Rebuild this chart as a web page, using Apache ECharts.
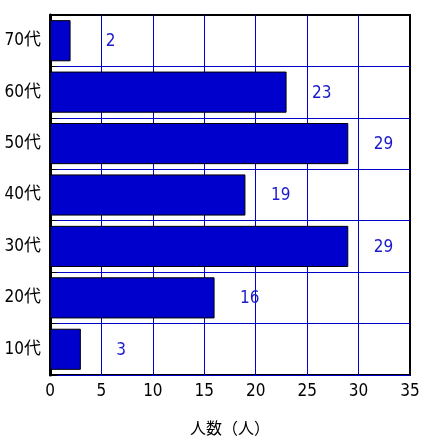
<!DOCTYPE html>
<html><head><meta charset="utf-8">
<script src="https://cdn.jsdelivr.net/npm/echarts@6/dist/echarts.min.js"></script>
<style>html,body{margin:0;padding:0;background:#fff}#c{width:424px;height:442px}</style>
</head><body><div id="c"></div>
<script>
const categories = ['10代','20代','30代','40代','50代','60代','70代'];
const values = [3, 16, 29, 19, 29, 23, 2];
const xTicks = [0, 5, 10, 15, 20, 25, 30, 35];
const xName = '人数（人）';

const font = '"DejaVu Sans Condensed", "Noto Sans CJK JP", sans-serif';
const cjk = '"Noto Sans CJK JP", sans-serif';
const chart = echarts.init(document.getElementById('c'));
chart.setOption({
  animation: false,
  grid: { left: 50, right: 14, top: 15, bottom: 67, show: true, borderColor: '#000', borderWidth: 2, backgroundColor: '#fff' },
  xAxis: {
    type: 'value', min: xTicks[0], max: xTicks[xTicks.length-1], interval: 5,
    name: xName, nameLocation: 'middle', nameGap: 45,
    nameTextStyle: { fontFamily: cjk, fontSize: 16, color: '#000' },
    axisLine: { show: true, lineStyle: { color: '#0000CC', width: 1 } },
    axisTick: { show: false },
    axisLabel: { fontFamily: font, fontSize: 17, color: '#000', margin: 8 },
    splitLine: { show: true, showMinLine: false, showMaxLine: false, lineStyle: { color: '#0000CC', width: 1 } }
  },
  yAxis: {
    type: 'category', data: categories,
    axisLine: { show: true, lineStyle: { color: '#000', width: 3 } },
    axisTick: { show: true, inside: true, length: 7, lineStyle: { color: '#000' } },
    axisLabel: { fontFamily: font, fontSize: 17, color: '#000', margin: 9 },
    splitLine: { show: true, showMaxLine: false, lineStyle: { color: '#0000CC', width: 1 } }
  },
  series: [{
    type: 'bar', data: values, barCategoryGap: '20%',
    itemStyle: { color: '#0000CC', borderColor: '#000', borderWidth: 1 },
    label: { show: true, position: 'right', distance: 0, align: 'right', offset: [45, 1],
      fontFamily: font, fontSize: 17, color: '#1a1acc' }
  }]
});
</script></body></html>
